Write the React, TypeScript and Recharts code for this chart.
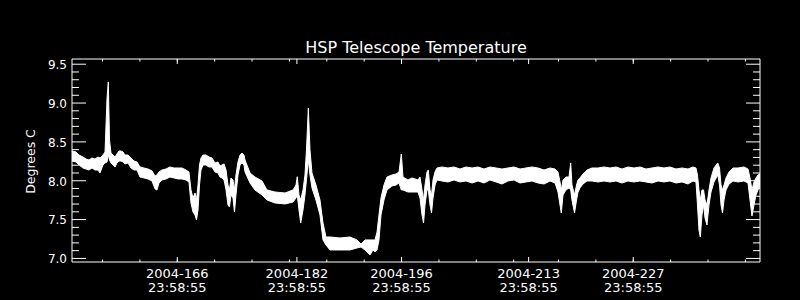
import React from 'react';
import { ComposedChart, Area, XAxis, YAxis } from 'recharts';

// Day of year 2004 (fractional)
const days = [
  152.91,153.45,153.85,154.38,154.79,155.19,155.59,155.99,156.39,156.66,
  157.06,157.33,157.60,157.77,157.93,158.13,158.40,158.67,158.93,159.20,
  159.47,159.74,160.00,160.40,160.81,161.21,161.61,162.01,162.54,163.08,
  163.62,164.02,164.28,164.55,164.95,165.49,166.02,166.56,167.09,167.63,
  168.16,168.56,168.83,169.10,169.37,169.57,169.77,169.97,170.17,170.44,
  170.84,171.24,171.64,172.04,172.44,172.71,172.98,173.25,173.52,173.78,
  173.98,174.18,174.45,174.65,174.85,175.12,175.39,175.66,175.92,176.06,
  176.73,177.39,178.33,179.00,180.07,181.41,182.48,182.88,183.05,183.28,
  183.51,183.82,184.08,184.28,184.53,184.75,185.02,185.55,186.09,186.49,
  186.89,187.43,188.77,190.10,191.04,191.58,192.11,192.78,193.18,193.45,
  193.72,193.98,194.25,194.65,195.05,195.72,196.26,196.66,196.97,197.19,
  197.86,198.40,199.20,199.47,199.74,199.94,200.14,200.40,200.58,200.81,
  201.01,201.21,201.48,201.74,202.41,203.21,204.02,204.82,205.62,206.43,
  207.23,208.03,208.83,209.64,210.44,211.24,212.04,212.85,213.65,214.45,
  215.26,216.06,216.86,217.53,217.93,218.20,218.37,218.60,219.00,219.40,
  219.63,219.80,220.14,220.41,220.61,220.87,221.27,221.81,222.48,223.28,
  224.08,224.89,225.69,226.49,227.30,228.10,228.90,229.70,230.51,231.31,
  232.11,232.91,233.72,234.52,235.32,235.99,236.39,236.59,236.79,236.97,
  237.19,237.40,237.60,237.86,238.13,238.40,238.80,239.30,239.54,239.74,
  239.94,240.14,240.41,240.81,241.34,242.01,242.81,243.35,243.62,243.88,
  244.15,244.42,244.69,244.95,
];

// Upper envelope of the temperature trace (deg C)
const tempHigh = [
  8.383,8.370,8.331,8.306,8.280,8.267,8.293,8.280,8.306,8.293,
  8.331,8.370,9.065,9.271,8.525,8.357,8.331,8.306,8.344,8.383,
  8.383,8.370,8.331,8.331,8.293,8.254,8.241,8.177,8.164,8.151,
  8.126,8.061,8.074,8.113,8.138,8.151,8.177,8.164,8.164,8.164,
  8.138,8.113,7.881,7.778,7.842,7.752,7.945,8.203,8.293,8.331,
  8.331,8.306,8.293,8.229,8.241,8.190,8.203,8.216,8.138,7.945,
  7.881,8.036,8.010,7.881,8.074,8.241,8.331,8.357,8.331,8.267,
  8.100,8.048,7.997,7.881,7.855,7.842,7.881,7.945,8.052,7.817,
  7.752,7.881,8.074,8.396,8.936,8.396,8.100,7.945,7.752,7.456,
  7.276,7.276,7.263,7.276,7.238,7.186,7.238,7.238,7.238,7.238,
  7.340,7.559,7.778,7.945,8.048,8.074,8.087,8.113,8.344,8.048,
  8.010,8.036,8.010,8.048,7.881,7.752,7.945,8.113,8.138,7.881,
  7.817,8.010,8.113,8.164,8.177,8.164,8.177,8.151,8.177,8.164,
  8.177,8.151,8.177,8.164,8.151,8.164,8.177,8.151,8.164,8.177,
  8.164,8.138,8.164,8.151,8.113,7.984,7.881,8.010,8.048,8.048,
  8.229,7.945,7.817,7.945,8.010,8.036,8.087,8.138,8.164,8.164,
  8.177,8.164,8.177,8.151,8.177,8.164,8.177,8.151,8.164,8.177,
  8.164,8.177,8.151,8.164,8.151,8.177,8.164,8.074,7.881,7.752,
  7.881,7.881,7.752,7.688,7.881,8.036,8.164,8.229,8.164,7.945,
  7.881,7.945,8.036,8.113,8.164,8.164,8.177,8.151,8.036,7.881,
  7.984,8.036,8.074,8.087,
];

// Lower envelope of the temperature trace (deg C)
const tempLow = [
  8.254,8.241,8.203,8.164,8.151,8.138,8.164,8.138,8.138,8.100,
  8.203,8.229,8.241,8.331,8.267,8.229,8.203,8.177,8.229,8.254,
  8.254,8.241,8.216,8.229,8.164,8.138,8.138,8.048,8.036,8.023,
  7.997,7.894,7.881,7.971,8.010,8.023,8.048,8.036,8.023,8.023,
  8.010,7.984,7.714,7.598,7.559,7.495,7.624,7.945,8.138,8.203,
  8.203,8.177,8.177,8.113,8.100,8.048,8.036,8.010,7.881,7.688,
  7.662,7.817,7.778,7.598,7.817,8.074,8.203,8.229,8.203,8.113,
  7.971,7.881,7.817,7.752,7.714,7.701,7.726,7.778,7.817,7.624,
  7.456,7.624,7.817,8.010,8.267,8.074,7.907,7.752,7.559,7.238,
  7.173,7.109,7.109,7.109,7.135,7.147,7.109,7.044,7.109,7.083,
  7.109,7.238,7.559,7.752,7.881,7.933,7.945,7.971,7.881,7.881,
  7.855,7.855,7.855,7.778,7.559,7.456,7.688,7.881,7.881,7.688,
  7.585,7.778,7.945,8.010,7.997,7.984,8.010,7.984,7.997,7.971,
  7.997,7.971,8.010,7.984,7.958,7.997,8.010,7.971,7.984,7.997,
  7.971,7.958,7.997,7.971,7.855,7.688,7.585,7.817,7.881,7.907,
  7.881,7.752,7.585,7.752,7.855,7.907,7.958,7.997,7.997,7.984,
  7.997,7.984,7.997,7.971,7.997,7.984,7.997,7.984,7.971,7.997,
  7.984,7.997,7.971,7.984,7.958,7.997,7.984,7.688,7.366,7.276,
  7.559,7.688,7.521,7.430,7.688,7.855,7.984,8.074,7.945,7.688,
  7.585,7.752,7.881,7.958,7.997,7.984,7.997,7.971,7.752,7.546,
  7.688,7.817,7.881,7.933,
];

const xMajorTicks = [166.99925, 182.99925, 196.99925, 213.99925, 227.99925];
const xMajorDates = ['2004-166', '2004-182', '2004-196', '2004-213', '2004-227'];
const xMajorTimes = ['23:58:55', '23:58:55', '23:58:55', '23:58:55', '23:58:55'];
const xMinorTicks = [157, 162, 167, 172, 177, 182, 187, 192, 197, 202, 207, 212, 218, 223, 228, 233, 238, 243];
const yMajorTicks = [7.0, 7.5, 8.0, 8.5, 9.0, 9.5];
const yMinorTicks = [
  7.1, 7.2, 7.3, 7.4, 7.6, 7.7, 7.8, 7.9, 8.1, 8.2,
  8.3, 8.4, 8.6, 8.7, 8.8, 8.9, 9.1, 9.2, 9.3, 9.4,
];
const xDomain: [number, number] = [152.913, 244.954];
const yDomain: [number, number] = [6.954, 9.567];

const TITLE = 'HSP Telescope Temperature';
const Y_TITLE = 'Degrees C';

const data = days.map((d, i) => ({ day: d, temp: [tempLow[i], tempHigh[i]] }));
const xTicks = [...xMinorTicks, ...xMajorTicks].sort((a, b) => a - b);
const yTicks = [...yMinorTicks, ...yMajorTicks].sort((a, b) => a - b);

const FONT = '"DejaVu Sans", sans-serif';
const WHITE = '#ffffff';

const xMajorIndex = (v: number) => xMajorTicks.findIndex((m) => Math.abs(m - v) < 1e-6);
const isYMajor = (v: number) => yMajorTicks.some((m) => Math.abs(m - v) < 1e-6);

const BottomTick = (props: any) => {
  const { x, y, payload } = props;
  const idx = xMajorIndex(payload.value);
  const len = idx >= 0 ? 5 : 2.5;
  return (
    <g>
      <line x1={x} y1={y} x2={x} y2={y - len} stroke={WHITE} strokeWidth={1} />
      {idx >= 0 && (
        <text x={x} y={y + 15.7} textAnchor="middle" fill={WHITE} fontSize={13} fontFamily={FONT}>
          {xMajorDates[idx]}
        </text>
      )}
      {idx >= 0 && (
        <text x={x} y={y + 30.3} textAnchor="middle" fill={WHITE} fontSize={13} fontFamily={FONT}>
          {xMajorTimes[idx]}
        </text>
      )}
    </g>
  );
};

const TopTick = (props: any) => {
  const { x, y, payload } = props;
  const len = xMajorIndex(payload.value) >= 0 ? 5 : 2.5;
  return <line x1={x} y1={y} x2={x} y2={y + len} stroke={WHITE} strokeWidth={1} />;
};

const LeftTick = (props: any) => {
  const { x, y, payload } = props;
  const major = isYMajor(payload.value);
  const len = major ? 14 : 7;
  return (
    <g>
      <line x1={x} y1={y} x2={x + len} y2={y} stroke={WHITE} strokeWidth={1} />
      {major && (
        <text x={x - 5} y={y + 4.8} textAnchor="end" fill={WHITE} fontSize={12} fontFamily={FONT}>
          {Number(payload.value).toFixed(1)}
        </text>
      )}
    </g>
  );
};

const RightTick = (props: any) => {
  const { x, y, payload } = props;
  const len = isYMajor(payload.value) ? 14 : 7;
  return <line x1={x} y1={y} x2={x - len} y2={y} stroke={WHITE} strokeWidth={1} />;
};

export default function App() {
  return (
    <div style={{ position: 'fixed', left: 0, top: 0, width: 800, height: 300, background: '#000' }}>
      <ComposedChart width={800} height={300} data={data} margin={{ top: 0, right: 0, bottom: 0, left: 0 }}>
        <XAxis
          xAxisId="bottom"
          type="number"
          dataKey="day"
          domain={xDomain}
          allowDataOverflow
          ticks={xTicks}
          interval={0}
          tick={<BottomTick />}
          tickLine={false}
          tickSize={0}
          tickMargin={0}
          axisLine={{ stroke: WHITE, strokeWidth: 1 }}
          height={38}
        />
        <XAxis
          xAxisId="top"
          orientation="top"
          type="number"
          dataKey="day"
          domain={xDomain}
          allowDataOverflow
          ticks={xTicks}
          interval={0}
          tick={<TopTick />}
          tickLine={false}
          tickSize={0}
          tickMargin={0}
          axisLine={{ stroke: WHITE, strokeWidth: 1 }}
          height={59}
        />
        <YAxis
          yAxisId="left"
          type="number"
          domain={yDomain}
          allowDataOverflow
          ticks={yTicks}
          interval={0}
          tick={<LeftTick />}
          tickLine={false}
          tickSize={0}
          tickMargin={0}
          axisLine={{ stroke: WHITE, strokeWidth: 1 }}
          width={72}
        />
        <YAxis
          yAxisId="right"
          orientation="right"
          type="number"
          domain={yDomain}
          allowDataOverflow
          ticks={yTicks}
          interval={0}
          tick={<RightTick />}
          tickLine={false}
          tickSize={0}
          tickMargin={0}
          axisLine={{ stroke: WHITE, strokeWidth: 1 }}
          width={40}
        />
        <Area
          xAxisId="bottom"
          yAxisId="left"
          type="linear"
          dataKey="temp"
          stroke={WHITE}
          strokeWidth={1}
          fill={WHITE}
          fillOpacity={1}
          dot={false}
          activeDot={false}
          isAnimationActive={false}
        />
      </ComposedChart>
      <svg
        width={800}
        height={300}
        style={{ position: 'absolute', left: 0, top: 0, pointerEvents: 'none' }}
      >
        <text x={416} y={53} textAnchor="middle" fill={WHITE} fontSize={16} fontFamily={FONT}>
          {TITLE}
        </text>
        <text
          x={35}
          y={161.5}
          textAnchor="middle"
          fill={WHITE}
          fontSize={12.5}
          fontFamily={FONT}
          transform="rotate(-90 35 161.5)"
        >
          {Y_TITLE}
        </text>
      </svg>
    </div>
  );
}
